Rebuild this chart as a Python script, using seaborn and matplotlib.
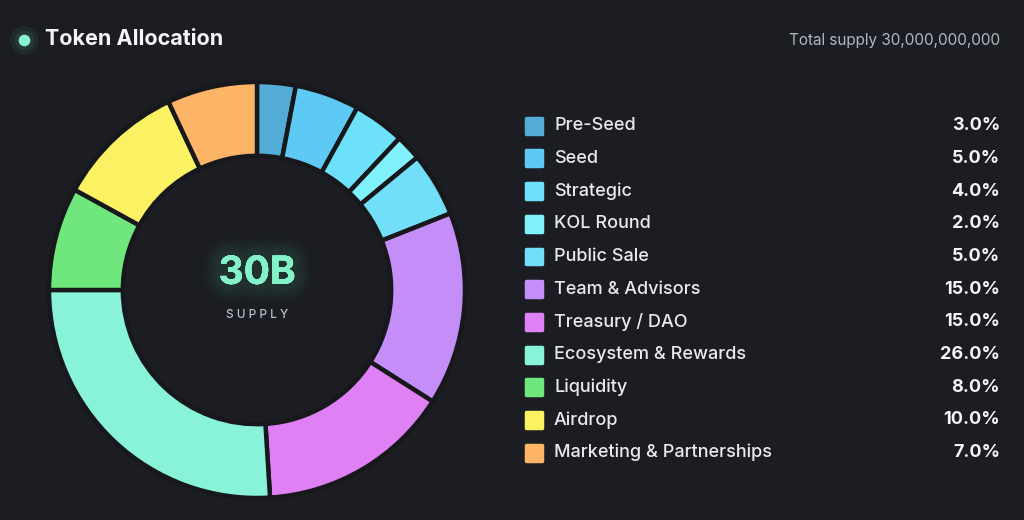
import numpy as np
import seaborn as sns
import matplotlib.pyplot as plt
import matplotlib.patheffects as pe
from matplotlib.markers import MarkerStyle

# Allocation data
categories = ['Pre-Seed', 'Seed', 'Strategic', 'KOL Round', 'Public Sale',
              'Team & Advisors', 'Treasury / DAO', 'Ecosystem & Rewards',
              'Liquidity', 'Airdrop', 'Marketing & Partnerships']
shares = [3.0, 5.0, 4.0, 2.0, 5.0, 15.0, 15.0, 26.0, 8.0, 10.0, 7.0]
colors = ['#52acd6', '#5ec9f4', '#6de0fa', '#80f1fb', '#72def8',
          '#c48df7', '#df80f4', '#88f3d8', '#70e77c', '#fbf263', '#fcb466']

total_supply = 'Total supply 30,000,000,000'
center_value = '30B'
center_label = 'SUPPLY'

bg = '#1b1d22'
sns.set_theme(style='dark', rc={'figure.facecolor': bg, 'axes.facecolor': bg})
plt.rcParams['font.family'] = ['Inter', 'DejaVu Sans']

fig = plt.figure(figsize=(10.24, 5.2), dpi=100)

# overlay in pixel coords for the text / legend
lax = fig.add_axes([0, 0, 1, 1])
lax.set_xlim(0, 1024)
lax.set_ylim(520, 0)
lax.axis('off')

# donut
cx, cy, r = 257, 290, 208
pad = 1.04
ax = fig.add_axes([(cx - r * pad) / 1024, (520 - cy - r * pad) / 520,
                   2 * r * pad / 1024, 2 * r * pad / 520])
ax.pie(shares, colors=colors, startangle=90, counterclock=False,
       wedgeprops=dict(width=0.355, edgecolor='#16181c', linewidth=3.2))
ax.set_xlim(-pad, pad)
ax.set_ylim(-pad, pad)
ax.set_aspect('equal')
ax.axis('off')

# soft glow behind the big number
glow = [pe.withStroke(linewidth=w, foreground='#5fd9a8', alpha=0.025)
        for w in (24, 20, 16, 12, 8)]
ax.text(0, 0.08, center_value, ha='center', va='center', fontsize=28,
        fontweight='bold', color='#84f2c8', path_effects=glow + [pe.Normal()])
ax.text(0, -0.12, ' '.join(center_label), ha='center', va='center',
        fontsize=8.5, color='#b9c0cc', fontweight='medium')

# title
lax.scatter([24], [40], s=420, color='#7ff0d0', alpha=0.06, linewidths=0)
lax.scatter([24], [40], s=200, color='#7ff0d0', alpha=0.08, linewidths=0)
lax.scatter([24], [40], s=70, color='#86f2d6', linewidths=0)
lax.text(45, 39, 'Token Allocation', ha='left', va='center', fontsize=15.5,
         fontweight='bold', color='#f4f5f7')
lax.text(1000, 40, total_supply, ha='right', va='center', fontsize=11,
         color='#b0b7c2')

# legend rows
rows = 125.7 + 32.7 * np.arange(len(categories))
marker = MarkerStyle('s', joinstyle='round')
sns.scatterplot(x=[534] * len(categories), y=rows, hue=categories,
                palette=colors, marker=marker, s=130, edgecolor=colors,
                linewidth=2.5, legend=False, ax=lax)
for y, name, val in zip(rows, categories, shares):
    lax.text(554, y, name, ha='left', va='center', fontsize=13,
             color='#e8eaee', fontweight='medium')
    lax.text(1000, y, f'{val:.1f}%', ha='right', va='center', fontsize=13,
             fontweight='bold', color='#f4f5f7')
lax.set_xlim(0, 1024)
lax.set_ylim(520, 0)
lax.axis('off')

fig.savefig('out.png', dpi=100, facecolor=bg)
